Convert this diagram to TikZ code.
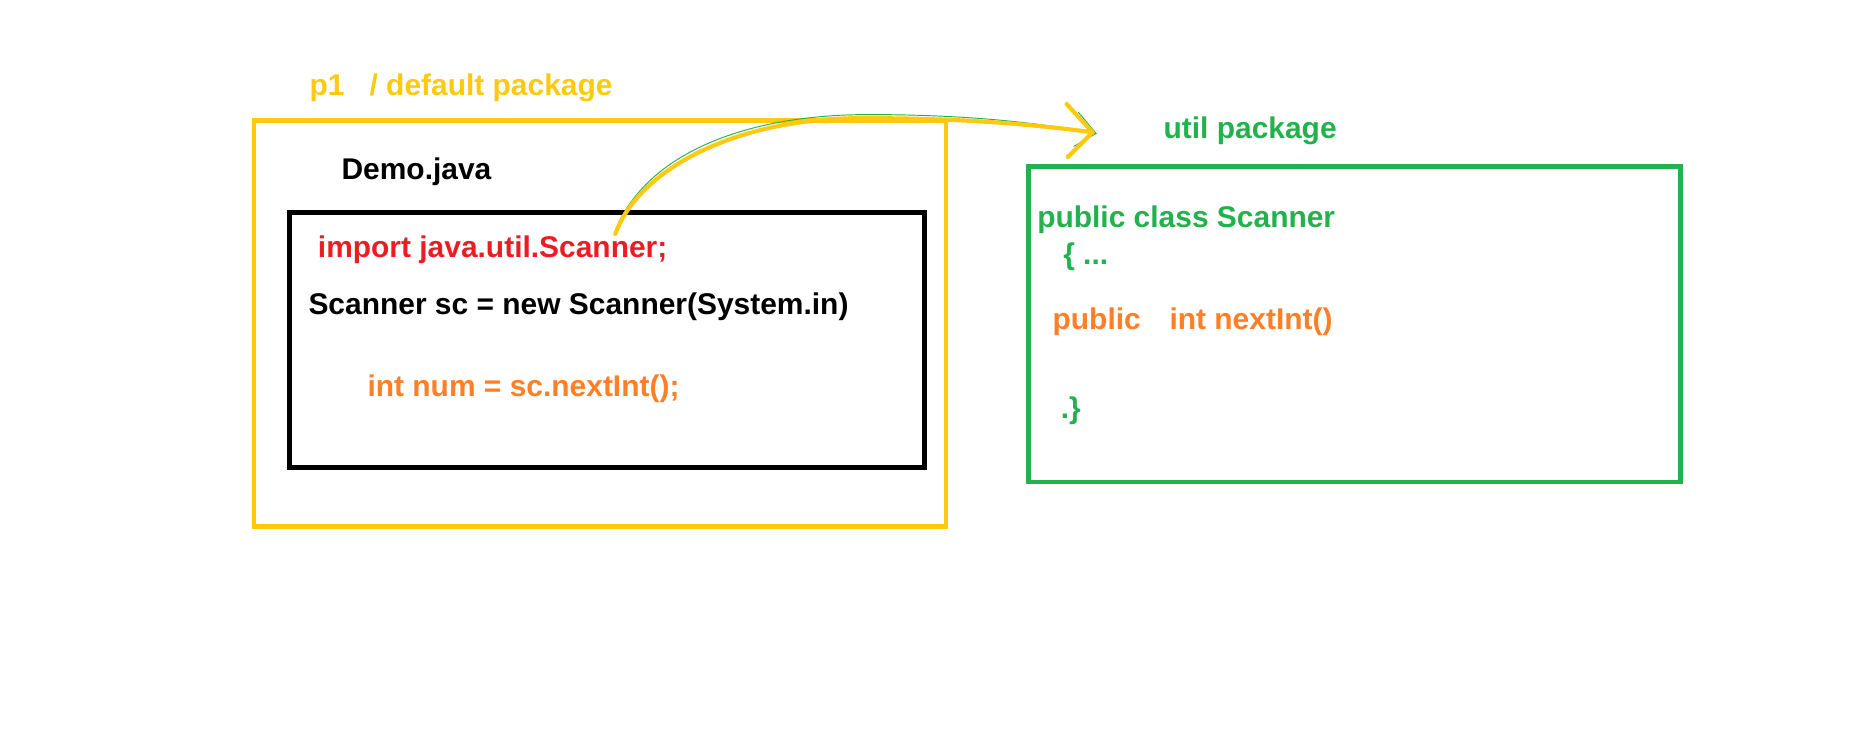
\documentclass[tikz,border=0pt]{standalone}
\usepackage{fontspec}
\setmainfont{Liberation Sans}
\begin{document}
\begin{tikzpicture}[x=1pt,y=-1pt,
  txt/.style={anchor=base west,inner sep=0pt,font=\fontsize{25.35}{30}\selectfont\bfseries},
  box/.style={line width=4pt},
]
\definecolor{pyellow}{HTML}{FFC90E}
\definecolor{pred}{HTML}{ED1C24}
\definecolor{porange}{HTML}{FF7F27}
\definecolor{pgreen}{HTML}{22B14C}
\path[use as bounding box,fill=white] (0,0) rectangle (1568,629);

% boxes
\node[draw=pyellow,box,minimum width=586pt,minimum height=344pt,anchor=north west,inner sep=0pt] (pkg) at (213,100) {};
\node[draw=black,box,minimum width=538pt,minimum height=216pt,anchor=north west,inner sep=0pt] (file) at (243,178) {};
\node[draw=pgreen,box,minimum width=552pt,minimum height=267pt,anchor=north west,inner sep=0pt] (util) at (869,139) {};

% texts
\node[txt,text=pyellow] (p1) at (262,81) {p1\ \ \ / default package};
\node[txt,text=black] (demo) at (289,152) {Demo.java};
\node[txt,text=pred] (imp) at (269,218) {import java.util.Scanner;};
\node[txt,text=black] (sc) at (261,266) {Scanner sc = new Scanner(System.in)};
\node[txt,text=porange] (num) at (311,336) {int num = sc.nextInt();};
\node[txt,text=pgreen] (utill) at (985,117) {util package};
\node[txt,text=pgreen] (cls) at (878,193) {public class Scanner};
\node[txt,text=pgreen] (open) at (900,224) {\{ ...};
\node[txt,text=porange] (pub) at (891,279) {public};
\node[txt,text=porange] (meth) at (990,279) {int nextInt()};
\node[txt,text=pgreen] (close) at (898,354) {.\}};

% arrow
\coordinate (s) at (521,198);
\coordinate (tip) at (925,112);
\coordinate (ha) at (903,88);
\coordinate (hb) at (904,133);
\coordinate (gs) at (524,188);
\coordinate (gtip) at (928,113);
\draw[pgreen,line width=0.8pt] (gs) .. controls (555,125) and (640,97) .. (735,97)
  .. controls (820,97) and (880,104) .. (gtip);
\draw[pgreen,line width=0.8pt] (913,95) -- (gtip) -- (909,124);
\draw[pyellow,line width=3.5pt,line cap=round,line join=round]
  (s) .. controls (540,145) and (620,100) .. (730,100)
  .. controls (820,100) and (880,106) .. (tip);
\draw[pyellow,line width=3.5pt,line cap=round,line join=round] (ha) -- (tip) -- (hb);
\end{tikzpicture}
\end{document}
